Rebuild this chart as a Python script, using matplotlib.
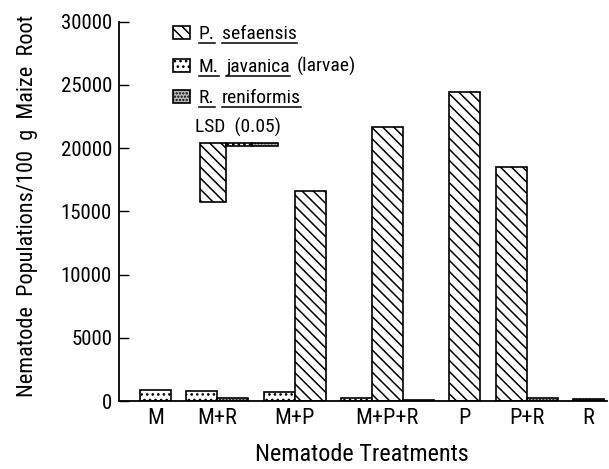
import matplotlib
matplotlib.use("Agg")
import matplotlib.pyplot as plt
from matplotlib.patches import Rectangle
from matplotlib.lines import Line2D
from matplotlib import font_manager

# nematodes per 100 g maize root, None where the species was not inoculated
treatments = ["M", "M+R", "M+P", "M+P+R", "P", "P+R", "R"]
m_javanica = [900, 800, 700, 200, None, None, None]
p_sefaensis = [None, None, 16600, 21650, 24450, 18500, None]
r_reniformis = [None, 200, None, 100, None, 250, 150]

# LSD (0.05) bars: P. sefaensis, M. javanica, R. reniformis
lsd_values = [4700, 250, 250]
lsd_top = 20400

yticks = [0, 5000, 10000, 15000, 20000, 25000, 30000]

W, H = 609, 469

# the original uses a condensed sans; take whatever narrow face is installed
fonts = font_manager.fontManager.ttflist
names = {f.name for f in fonts}
family, stretch = "DejaVu Sans", "normal"
for cand in ("Liberation Sans Narrow", "Roboto Condensed", "Noto Sans Condensed",
             "DejaVu Sans Condensed", "Open Sans Condensed"):
    if cand in names:
        family = cand
        break
else:
    narrow = sorted(f.name for f in fonts
                    if ("Condensed" in f.name or "Narrow" in f.name)
                    and f.weight in (400, "normal", "regular"))
    cond = [f.name for f in fonts if f.stretch in ("condensed", "semi-condensed")]
    if narrow:
        family = narrow[0]
    elif cond:
        family, stretch = cond[0], "condensed"

plt.rcParams["font.family"] = [family, "DejaVu Sans"]
plt.rcParams["font.stretch"] = stretch
plt.rcParams["hatch.linewidth"] = 1.1

styles = {
    "M": dict(facecolor="white", hatch="..."),
    "P": dict(facecolor="white", hatch="\\\\\\"),
    "R": dict(facecolor="#bdbdbd", hatch="....."),
}


def px(x, y):
    """pixel position (from top-left) to figure fraction"""
    return x / W, 1 - y / H


fig = plt.figure(figsize=(W / 100, H / 100), dpi=100)
ax = fig.add_axes([119 / W, 68 / H, (607 - 119) / W, (401 - 21.7) / H])

# bars: each group holds its species side by side, half a bar gap between groups
x = 0.68
centers = []
for i in range(len(treatments)):
    start = x
    for key, vals in (("M", m_javanica), ("P", p_sefaensis), ("R", r_reniformis)):
        if vals[i] is None:
            continue
        ax.bar(x, vals[i], width=1, align="edge", edgecolor="black",
               linewidth=1.2, **styles[key])
        x += 1
    centers.append((start + x) / 2)
    x += 0.5

# LSD bars hanging from a common top
lx = 2.62
for key, v in zip(("P", "M", "R"), lsd_values):
    ax.bar(lx, -v, bottom=lsd_top, width=0.84, align="edge", edgecolor="black",
           linewidth=1.2, **styles[key])
    lx += 0.84

ax.set_xlim(0, 15.78)
ax.set_ylim(0, 30000)
ax.set_yticks(yticks)
ax.set_yticklabels([str(t) for t in yticks], fontsize=15)
ax.set_xticks(centers)
ax.set_xticklabels(treatments, fontsize=16)
ax.tick_params(axis="y", direction="in", length=7, width=1, pad=5)
ax.tick_params(axis="x", length=0, pad=5)
for s in ("top", "right"):
    ax.spines[s].set_visible(False)
for s in ("left", "bottom"):
    ax.spines[s].set_linewidth(1.3)

ax.set_xlabel("Nematode Treatments", fontsize=17.5)
ax.xaxis.set_label_coords(0.497, -0.112)
ax.set_ylabel("Nematode  Populations/100  g  Maize  Root", fontsize=16)
ax.yaxis.set_label_coords(-0.165, 0.515)

# legend drawn by hand so the names can be underlined
renderer = fig.canvas.get_renderer()
rows = [
    ("P", 39, [("P.", True), ("sefaensis", True)]),
    ("M", 72, [("M.", True), ("javanica", True), ("(larvae)", False)]),
    ("R", 103, [("R.", True), ("reniformis", True)]),
]
for key, base, words in rows:
    fig.add_artist(Rectangle(px(173, base), 17 / W, 13 / H, transform=fig.transFigure,
                             edgecolor="black", linewidth=1.2, **styles[key]))
    wx = 199
    for word, under in words:
        t = fig.text(*px(wx, base), word, fontsize=14, va="baseline")
        bb = t.get_window_extent(renderer)
        if under:
            x0, y0 = px(bb.x0, base + 4)
            x1, _ = px(bb.x1, base + 4)
            fig.add_artist(Line2D([x0, x1], [y0, y0], color="black", lw=1.1,
                                  transform=fig.transFigure))
        wx = bb.x1 + 7

fig.text(*px(195, 133), "LSD  (0.05)", fontsize=14, va="baseline")

fig.savefig("out.png", dpi=100)
